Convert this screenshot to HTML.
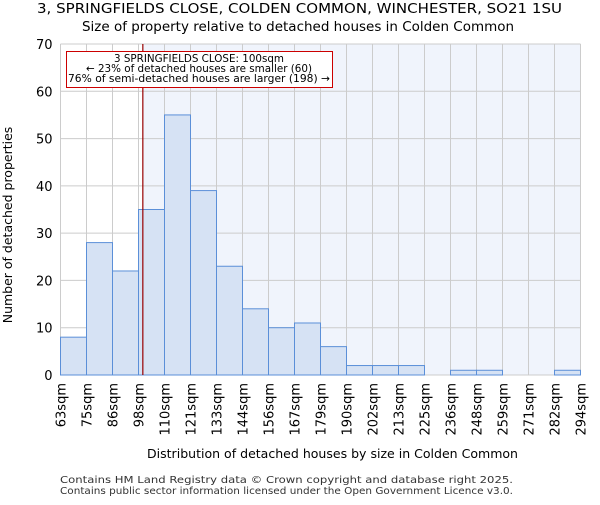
<!DOCTYPE html>
<html><head><meta charset="utf-8"><style>body{margin:0;background:#fff}text{font-family:"DejaVu Sans","Liberation Sans",sans-serif}</style></head>
<body>
<svg id="c" width="600" height="500" xmlns="http://www.w3.org/2000/svg">
<text x="37" y="13" font-size="13" textLength="525" lengthAdjust="spacingAndGlyphs">3, SPRINGFIELDS CLOSE, COLDEN COMMON, WINCHESTER, SO21 1SU</text>
<text x="82" y="31" font-size="13" textLength="432" lengthAdjust="spacingAndGlyphs">Size of property relative to detached houses in Colden Common</text>
<g id="plot"></g>
<text x="147" y="458" font-size="12.5" textLength="371" lengthAdjust="spacingAndGlyphs">Distribution of detached houses by size in Colden Common</text>
<text transform="translate(12,225) rotate(-90)" font-size="12.5" text-anchor="middle">Number of detached properties</text>
<text x="60" y="483" font-size="10" fill="#333" textLength="453" lengthAdjust="spacingAndGlyphs">Contains HM Land Registry data © Crown copyright and database right 2025.</text>
<text x="60" y="494" font-size="10" fill="#333" textLength="453" lengthAdjust="spacingAndGlyphs">Contains public sector information licensed under the Open Government Licence v3.0.</text>
</svg>
<script>
const binLabels=["63sqm","75sqm","86sqm","98sqm","110sqm","121sqm","133sqm","144sqm","156sqm","167sqm","179sqm","190sqm","202sqm","213sqm","225sqm","236sqm","248sqm","259sqm","271sqm","282sqm","294sqm"];
const binEdges=[63,75,86,98,110,121,133,144,156,167,179,190,202,213,225,236,248,259,271,282,294];
const counts=[8,28,22,35,55,39,23,14,10,11,6,2,2,2,0,1,1,0,0,1];
const yTicks=[0,10,20,30,40,50,60,70];
const propertySize=100;
const NS="http://www.w3.org/2000/svg";
const X0=60.5,X1=580.5,Y0=375,Y1=44,YMAX=70;
const xi=i=>X0+(X1-X0)*i/(binLabels.length-1);
const xv=v=>{for(let i=0;i<binEdges.length-1;i++){if(v<=binEdges[i+1])return xi(i)+(v-binEdges[i])/(binEdges[i+1]-binEdges[i])*(xi(i+1)-xi(i));}return X1;};
const y=v=>Y0-(Y0-Y1)*v/YMAX;
const g=document.getElementById('plot');
function mk(t,a){const e=document.createElementNS(NS,t);for(const k in a)e.setAttribute(k,a[k]);g.appendChild(e);return e;}
const px=xv(propertySize);
let e=mk('rect',{x:px,y:Y1,width:X1-px,height:Y0-Y1,fill:'#f0f4fc'});


yTicks.forEach(t=>{let l=mk('line',{x1:X0,x2:X1,y1:y(t),y2:y(t),stroke:'#cccccc'});


let tx=mk('text',{x:X0-8,y:y(t)+5,'font-size':13,'text-anchor':'end'});tx.textContent=t;

});
binLabels.forEach((b,i)=>{let l=mk('line',{x1:xi(i),x2:xi(i),y1:Y1,y2:Y0,stroke:'#cccccc'});


let tx=mk('text',{transform:`translate(${xi(i)+5},${Y0+8}) rotate(-90)`,'font-size':13,'text-anchor':'end'});tx.textContent=b;

});
counts.forEach((c,i)=>{if(c<=0)return;let r=mk('rect',{x:xi(i),y:y(c),width:xi(i+1)-xi(i),height:Y0-y(c),fill:'#d6e2f4',stroke:'#5b8fd8','stroke-width':1});

});
let pl=mk('line',{x1:px,x2:px,y1:Y1,y2:Y0,stroke:'#990000','stroke-width':1.2});


let bx=mk('rect',{x:66.5,y:51.5,width:266,height:36,fill:'#fff',stroke:'#cc0000'});


[["3 SPRINGFIELDS CLOSE: 100sqm",170],["← 23% of detached houses are smaller (60)",226],["76% of semi-detached houses are larger (198) →",262]].forEach((s,i)=>{let t=mk('text',{x:199-s[1]/2,y:62+i*10,'font-size':10.5,textLength:s[1],lengthAdjust:'spacingAndGlyphs'});t.textContent=s[0];

});
</script>
</body></html>
